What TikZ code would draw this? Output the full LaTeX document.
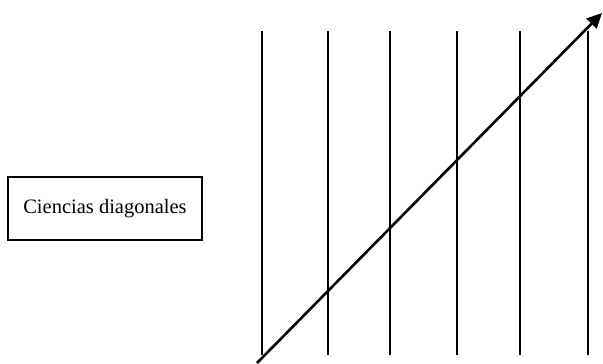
\documentclass[tikz,border=0pt]{standalone}
\usepackage{fontspec}
\setmainfont{Liberation Serif}
\usetikzlibrary{arrows.meta}
\begin{document}
\begin{tikzpicture}[x=1pt,y=-1pt,
  vline/.style={line width=2.6pt},
  label box/.style={draw,line width=2.6pt,minimum width=194pt,minimum height=63pt,inner sep=0pt,font=\fontsize{20.5}{22}\selectfont},
  diag/.style={line width=2.6pt,-{Triangle[length=15pt,width=14pt]}}]
\useasboundingbox (0,0) rectangle (603,364);
\node[label box] (box) at (105,208.5) {Ciencias diagonales};
\foreach \i/\x in {1/262,2/328,3/390,4/457,5/520,6/588}{
  \coordinate (t\i) at (\x,31);
  \coordinate (b\i) at (\x,355);
  \draw[vline] (t\i) -- (b\i);
}
\coordinate (start) at (257,363);
\coordinate (tip) at (602,13);
\draw[diag] (start) -- (tip);
\end{tikzpicture}
\end{document}
